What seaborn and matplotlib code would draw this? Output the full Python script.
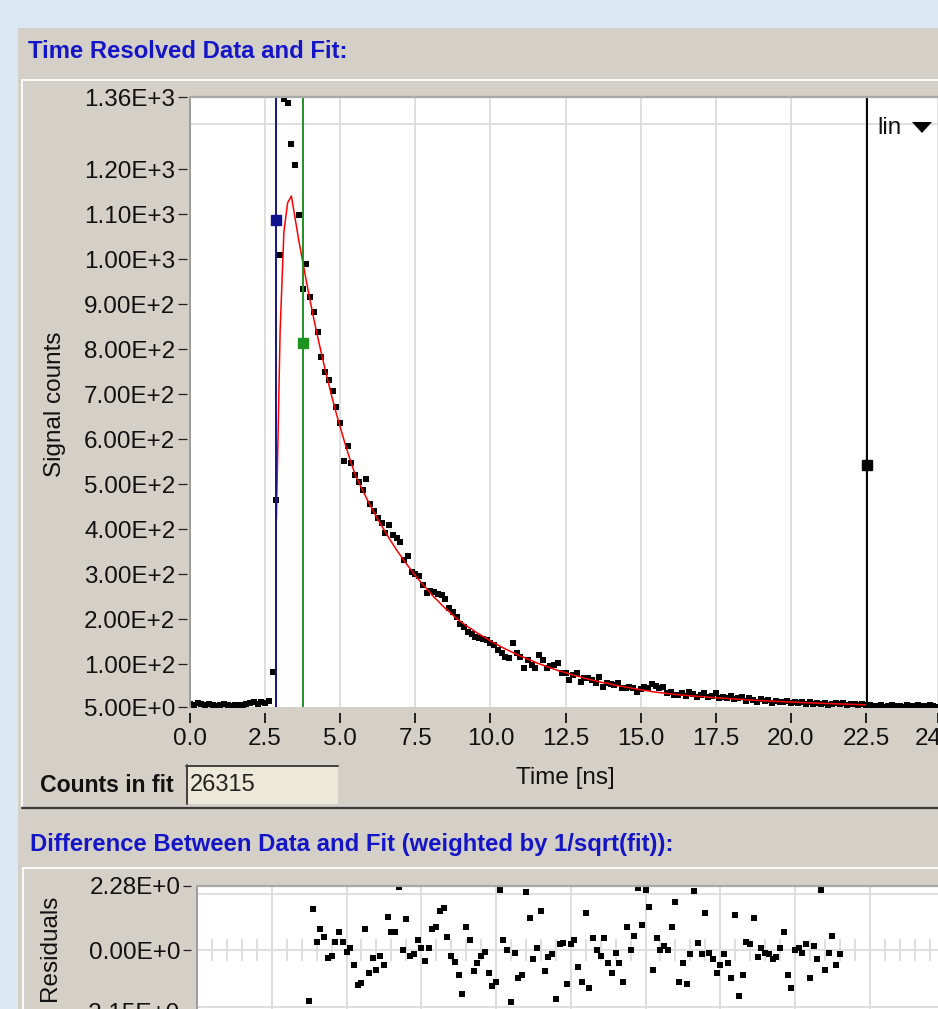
import matplotlib
matplotlib.use("Agg")
import matplotlib.pyplot as plt
import matplotlib.ticker as tck
from matplotlib.patches import Rectangle, Polygon
from matplotlib.lines import Line2D
import numpy as np
import pandas as pd
import seaborn as sns

W, H = 938, 1009          # output size in pixels (dpi 100)
DT = 0.125                # ns per time channel

# measured signal, one value per channel starting at t = 0
signal_counts = [
    12, 10, 13, 11, 9, 12, 10, 8, 9, 11, 10, 8, 9, 10, 9, 11, 13, 15, 12, 17, 14, 19,
    83, 465, 1008, 1356, 1346, 1256, 1209, 1098,
    934, 989, 916, 883, 837, 783, 750, 732, 708, 672, 635, 552, 585, 546, 520,
    505, 487, 511, 455, 440, 424, 414, 391, 409, 387, 380, 372, 332, 340, 304,
    300, 295, 276, 258, 262, 260, 256, 254, 244, 224, 215, 205, 190, 182, 172,
    168, 160, 158, 156, 154, 148, 143, 132, 125, 117, 113, 148, 126, 117, 91,
    109, 98, 91, 121, 109, 91, 95, 98, 102, 80, 80, 65, 76, 80, 61,
    69, 69, 64, 58, 72, 50, 58, 56, 54, 58, 47, 47, 49, 47, 39,
    44, 50, 47, 56, 52, 47, 50, 35, 38, 32, 32,
    36, 30, 38, 33, 28, 31, 35, 27, 30, 36, 25, 28, 26, 30, 22, 24, 27, 19, 25, 21,
    16, 23, 18, 20, 14, 19, 17, 15, 18, 13, 16, 14, 17, 12, 15, 11, 13, 12, 14, 10,
    12, 14, 11, 13, 10, 11, 12, 9, 11, 10,
    9, 7, 8, 10, 6, 8, 9, 7, 8, 6, 9, 8, 7, 10, 8, 7, 9, 8, 6,
]

# fitted curve, starts at channel FIT_START
FIT_START = 23
fit_counts = [
    420, 840, 1060, 1125, 1140, 1090, 1040,
    995, 950, 907, 866, 827, 790, 754, 720, 687, 656, 627, 598, 571, 545, 521,
    503, 486, 469, 453, 437, 422, 408, 394, 380, 367, 354, 342, 330, 319, 308,
    297, 287, 277, 268, 258, 249, 241, 232, 224, 217, 209, 202, 195,
    189, 183, 178, 172, 167, 162, 157, 152, 147, 143, 138, 134, 130, 126, 122,
    118, 115, 111, 108, 104, 101, 98, 95, 92, 89, 86, 84, 81, 79, 76,
    74, 72, 69, 67, 65, 63, 61, 59, 58, 56, 54, 52, 51, 49, 48, 46, 45, 43,
    42, 41, 39, 38, 37, 36, 35, 34,
    33.2, 32.4, 31.6, 30.9, 30.2, 29.5, 28.8, 28.1, 27.4, 26.8, 26.2, 25.6, 25.0,
    24.4, 23.8, 23.2, 22.7, 22.2, 21.6, 21.1, 20.6, 20.1, 19.7, 19.2, 18.8, 18.3,
    17.9, 17.5, 17.1, 16.7, 16.3, 15.9, 15.5, 15.2, 14.8, 14.5, 14.1, 13.8, 13.5,
    13.2, 12.9, 12.6, 12.3, 12.0, 11.7, 11.4, 11.2, 10.9, 10.7, 10.4, 10.2, 9.9,
]

# weighted residuals, start at channel RES_START
RES_START = 30
residuals = [
    -1.78, 1.46, 0.28, 0.75, 0.46, -0.26, -0.20, 0.28, 0.65, 0.28,
    -0.06, 0.07, -0.53, -1.23, -1.14, 0.75, -0.82, -0.28, -0.68, -0.21,
    -0.52, 1.18, 0.65, 0.65, 2.25, 0.01, 1.10, -0.21, -0.14, 0.37,
    0.07, -0.38, 0.07, 0.75, 0.82, 1.40, 1.50, 0.46, -0.20, -0.43,
    -0.89, -1.53, 0.81, 0.37, -0.74, -0.44, -0.20, -0.06, -0.82, -1.27,
    -1.13, 2.14, 0.37, 0.00, -1.84, -0.08, -0.97, -0.89, 2.08, 1.16,
    -0.30, 0.07, 1.40, -0.74, -0.23, -0.14, -1.71, 0.21, 0.25, -1.18,
    0.21, 0.37, -0.58, -1.12, 1.31, -1.33, 0.43, 0.00, -0.20, 0.43,
    -0.44, -0.82, -0.08, -0.44, -1.12, 0.81, 0.00, 0.51, 2.21, 0.89,
    2.14, 1.54, -0.68, 0.43, 0.00, 0.15, 0.00, 0.81, 1.70, -1.12,
    -0.44, -1.18, -0.14, 2.11, 0.27, -0.14, 1.32, -0.08, -0.30, -0.82,
    -0.52, -0.14, -0.44, -0.97, 1.25, -1.63, -0.89, 0.30, 0.21, 1.16,
    -0.23, 0.07, -0.08, -0.14, -0.30, -0.23, 0.07, 0.65, -0.89, -1.33,
    0.00, 0.07, -0.08, 0.21, -0.97, 0.15, -0.30, 2.14, -0.68, -0.08,
    0.51, -0.52, -0.14,
]

# cursors: time [ns], value, colour
cursor_times = [2.87, 3.77, 22.53]
cursor_values = [1087, 814, 543]
cursor_colors = ["#12128c", "#1f931f", "#000000"]

y_ticks = [5, 100, 200, 300, 400, 500, 600, 700, 800, 900, 1000, 1100, 1200, 1360]
y_grid = [100, 200, 300, 400, 500, 600, 700, 800, 900, 1000, 1100, 1200, 1300]
x_ticks = [0, 2.5, 5, 7.5, 10, 12.5, 15, 17.5, 20, 22.5, 24.9]
x_labels = ["0.0", "2.5", "5.0", "7.5", "10.0", "12.5", "15.0", "17.5", "20.0", "22.5", "24.9"]
res_ticks = [-2.15, 0.0, 2.28]
res_grid = [-2, 0, 2]
counts_in_fit = "26315"

BLUE_TITLE = "#1515c8"
PANEL = "#d4d0c8"
GRID = "#dcdcdc"
FS = 17.5
MARK = 16


def sci_label(v, pos=None):
    m, e = f"{v:.2E}".split("E")
    return f"{m}E{int(e):+d}"


def fx(x):
    return x / W


def fy(y):
    return 1 - y / H


sns.set_style("white")
plt.rcParams["font.family"] = ["Liberation Sans", "DejaVu Sans"]

fig = plt.figure(figsize=(W / 100, H / 100), dpi=100, facecolor="#dce7f4")


def frect(x0, y0, x1, y1, **kw):
    fig.add_artist(Rectangle((fx(x0), fy(y1)), fx(x1 - x0), (y1 - y0) / H,
                             transform=fig.transFigure, **kw))


def fline(x0, y0, x1, y1, **kw):
    fig.add_artist(Line2D([fx(x0), fx(x1)], [fy(y0), fy(y1)],
                          transform=fig.transFigure, **kw))


# window chrome
frect(18, 28, 940, 1012, fc=PANEL, ec="none", zorder=-3)
fline(22, 80, 940, 80, color="white", lw=1.3, zorder=-2)
fline(22, 80, 22, 806, color="white", lw=1.3, zorder=-2)
fline(22, 807.5, 940, 807.5, color="#3a3a3a", lw=1.6, zorder=-2)
fline(23, 868, 940, 868, color="white", lw=1.3, zorder=-2)
fline(23, 868, 23, 1012, color="white", lw=1.3, zorder=-2)

fig.text(fx(28), fy(52), "Time Resolved Data and Fit:", color=BLUE_TITLE,
         fontsize=17.2, fontweight="bold", va="center", ha="left")
fig.text(fx(30), fy(845), "Difference Between Data and Fit (weighted by 1/sqrt(fit)):",
         color=BLUE_TITLE, fontsize=17.2, fontweight="bold", va="center", ha="left")

# ---------------- data + fit ----------------
t = np.arange(len(signal_counts)) * DT
df = pd.DataFrame({"t": t, "counts": signal_counts})
fit_df = pd.DataFrame({"t": t[FIT_START:FIT_START + len(fit_counts)], "fit": fit_counts})
res_df = pd.DataFrame({"t": t[RES_START:RES_START + len(residuals)], "res": residuals})

ax1 = fig.add_axes([fx(190), fy(707), fx(938 - 190), (707 - 97) / H])
ax1.set_facecolor("white")
sns.lineplot(data=fit_df, x="t", y="fit", color="#ff0000", lw=1.1, estimator=None,
             ax=ax1, zorder=4)
sns.scatterplot(data=df, x="t", y="counts", marker="s", s=MARK, color="black",
                linewidth=0, ax=ax1, zorder=3)
for ct, cv, cc in zip(cursor_times, cursor_values, cursor_colors):
    ax1.axvline(ct, color=cc, lw=1.4, zorder=5)
    ax1.plot(ct, cv, marker="s", ms=7, color=cc, zorder=6, clip_on=False)

ax1.set_xlim(0, 24.9)
ax1.set_ylim(5, 1360)
ax1.set_xticks(x_ticks)
ax1.set_xticklabels(x_labels)
ax1.set_yticks(y_ticks)
ax1.yaxis.set_major_formatter(tck.FuncFormatter(sci_label))
ax1.yaxis.set_minor_locator(tck.FixedLocator(y_grid))
ax1.grid(axis="x", which="major", color=GRID, lw=1.3)
ax1.grid(axis="y", which="minor", color=GRID, lw=1.3)
ax1.set_axisbelow(True)
ax1.set_xlabel("")
ax1.set_ylabel("")
for side in ["top", "right", "bottom", "left"]:
    ax1.spines[side].set_visible(False)
ax1.spines["bottom"].set_position(("outward", 4))
ax1.spines["left"].set_position(("outward", 2))
ax1.tick_params(axis="x", which="major", bottom=True, direction="out", length=7,
                width=1.4, color="#202020", pad=4, labelsize=FS, labelcolor="#111111")
ax1.tick_params(axis="y", which="major", left=True, direction="out", length=6.5,
                width=0.9, color="#202020", pad=2, labelsize=FS, labelcolor="#111111")
ax1.tick_params(axis="y", which="minor", length=0)
ax1.add_line(Line2D([0, 0], [0, 1], transform=ax1.transAxes, color="#9c9c9c", lw=1.4,
                    clip_on=False, zorder=7))
ax1.add_line(Line2D([0, 1], [1, 1], transform=ax1.transAxes, color="#a8a8a8", lw=1.6,
                    clip_on=False, zorder=7))

fig.text(fx(55), fy(404), "Signal counts", rotation=90, fontsize=FS,
         ha="center", va="center", color="#111111")
fig.text(fx(565), fy(778), "Time [ns]", fontsize=FS, ha="center", va="center",
         color="#111111")
fig.text(fx(877), fy(128), "lin", fontsize=FS, ha="left", va="center", color="#111111")
fig.add_artist(Polygon([(fx(912), fy(122)), (fx(932), fy(122)), (fx(922), fy(133))],
                       closed=True, transform=fig.transFigure, fc="black", ec="none",
                       zorder=10))

# counts in fit box
fig.text(fx(40), fy(785), "Counts in fit", fontsize=16.6, fontweight="bold",
         ha="left", va="center", color="#111111")
frect(186, 765, 338, 804, fc="#ece9d8", ec="none", zorder=-1)
fline(186, 766, 338, 766, color="#404040", lw=1.4, zorder=-1)
fline(186.5, 765, 186.5, 804, color="#404040", lw=1.4, zorder=-1)
fig.text(fx(190), fy(785), counts_in_fit, fontsize=FS - 0.5, ha="left", va="center",
         color="#222222")

# ---------------- residuals ----------------
ax2 = fig.add_axes([fx(197), fy(1011), fx(938 - 197), (1011 - 886) / H])
ax2.set_facecolor("white")
sns.scatterplot(data=res_df, x="t", y="res", marker="s", s=MARK, color="black",
                linewidth=0, ax=ax2, zorder=3)
ax2.set_xlim(0, (938 - 197) / 29.9)
ax2.set_ylim(-2.15, 2.28)
ax2.set_yticks(res_ticks)
ax2.yaxis.set_major_formatter(tck.FuncFormatter(sci_label))
ax2.yaxis.set_minor_locator(tck.FixedLocator(res_grid))
ax2.xaxis.set_major_locator(tck.MultipleLocator(2.5))
ax2.xaxis.set_minor_locator(tck.MultipleLocator(0.5))
ax2.grid(axis="x", which="major", color=GRID, lw=1.3)
ax2.grid(axis="y", which="minor", color=GRID, lw=1.3)
ax2.set_axisbelow(True)
ax2.set_xlabel("")
ax2.set_ylabel("")
for side in ["right", "bottom", "left"]:
    ax2.spines[side].set_visible(False)
ax2.spines["left"].set_position(("outward", 4))
# zero axis drawn through the middle, carrying the small time ticks
ax2.spines["top"].set_position(("data", 0))
ax2.spines["top"].set_color(GRID)
ax2.spines["top"].set_linewidth(1.3)
ax2.xaxis.set_ticks_position("top")
ax2.tick_params(axis="x", which="both", top=True, bottom=False, direction="inout",
                length=16, width=1.3, color=GRID, labeltop=False, labelbottom=False)
ax2.tick_params(axis="y", which="major", left=True, direction="out", length=6,
                width=0.9, color="#202020", pad=2, labelsize=FS, labelcolor="#111111")
ax2.tick_params(axis="y", which="minor", length=0)
ax2.add_line(Line2D([0, 0], [0, 1], transform=ax2.transAxes, color="#9c9c9c", lw=1.4,
                    clip_on=False, zorder=7))
ax2.add_line(Line2D([0, 1], [1, 1], transform=ax2.transAxes, color="#a8a8a8", lw=1.6,
                    clip_on=False, zorder=7))
fig.text(fx(50), fy(948), "Residuals", rotation=90, fontsize=FS,
         ha="center", va="center", color="#111111")

fig.savefig("out.png", dpi=100, facecolor=fig.get_facecolor())
